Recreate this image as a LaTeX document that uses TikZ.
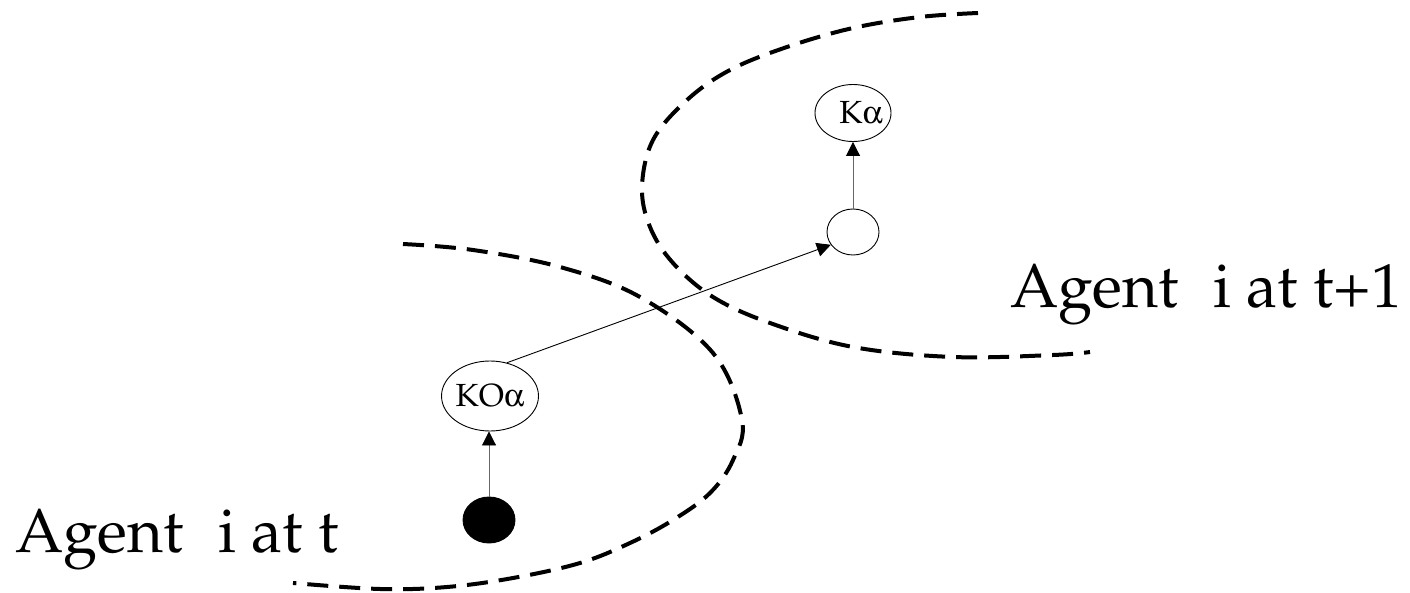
\documentclass[tikz,border=0pt]{standalone}
\usepackage[T1]{fontenc}
\usepackage{mathpazo}
\usepackage[Symbol]{upgreek}
\usetikzlibrary{shapes.geometric,arrows.meta}
\tikzset{
  bubble/.style={ellipse, draw=black, line width=0.9pt, inner sep=0pt},
  arr/.style={line width=0.9pt, -{Triangle[length=14pt,width=14pt,color=black]}},
  softarr/.style={arr, draw=black!60},
  boundary/.style={line width=4pt, dash pattern=on 21pt off 11pt},
  biglabel/.style={anchor=base west, inner sep=0pt, font=\fontsize{62}{74}\selectfont},
  nodetext/.style={font=\fontsize{32}{38}\selectfont}
}
\begin{document}
\begin{tikzpicture}[x=1pt,y=-1pt]
\useasboundingbox (0,0) rectangle (1410,593);
% boundary at t
\draw[boundary] plot[smooth, tension=0.6] coordinates {
 (403,244) (473,250) (560,267) (640,297) (713,353) (742,420)
 (733,460) (710,493) (673,520) (630,543) (580,563) (513,578) (447,587) (380,589) (293,583)};
% boundary at t+1
\draw[boundary] plot[smooth, tension=0.6] coordinates {
 (978,13) (920,17) (853,28) (787,47) (730,70) (687,100) (653,140) (642,187)
 (650,227) (673,263) (713,297) (770,323) (853,347) (953,357) (1053,355) (1090,352)};
% nodes
\node[bubble, fill=black, minimum width=52pt, minimum height=46pt] (blk) at (489,520) {};
\node[bubble, nodetext, minimum width=82pt, minimum height=70pt] (ko) at (490,396) {KO$\upalpha$};
\node[bubble, minimum width=52pt, minimum height=46pt] (small) at (853,232) {};
\node[bubble, minimum width=76pt, minimum height=57pt,
      label={[nodetext, xshift=8pt]center:K$\upalpha$}] (ka) at (853,113) {};
% connectors
\draw[softarr] (blk.north) -- (blk.north |- ko.south);
\draw[softarr] (small.north) -- (ka.south);
\draw[arr] (ko.63) -- (small.210);
% labels
\node[biglabel] (lt) at (15,552) {Agent\hspace{0.3em} i at t};
\node[biglabel] (lt1) at (1010,308) {Agent\hspace{0.3em} i at t+1};
\end{tikzpicture}
\end{document}
